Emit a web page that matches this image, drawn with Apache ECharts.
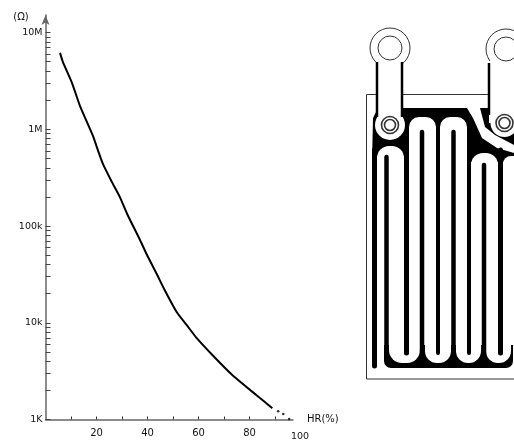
<!DOCTYPE html>
<html><head><meta charset="utf-8">
<style>html,body{margin:0;padding:0;background:#fff}#c{width:514px;height:441px;filter:blur(0.35px)}</style>
<script src="https://cdn.jsdelivr.net/npm/echarts@6/dist/echarts.min.js"></script>
</head><body><div id="c"></div>
<script>
const humidity = [5.7,6.8,10.4,13.5,18.6,20.5,22.5,26,29.1,32.2,36.9,39.6,43.6,46.7,51.4,55.3,59.2,65.4,73.2,82.6,88.9];
const resistance = [6170000,4980000,3010000,1750000,855000,612000,439000,286000,200000,130000,73000,51400,31900,21800,12900,9500,6970,4640,2880,1790,1310];
const tailHumidity = [91.2,93.2,95.5];
const tailResistance = [1220,1140,1010];
const xLabelValues = [20,40,60,80];
const xTickValues = [10,20,30,40,50,60,70,80,90];
const yLabelValues = [1000,10000,100000,1000000,10000000];
const yLabelTexts = {1000:'1K',10000:'10k',100000:'100k',1000000:'1M',10000000:'10M'};
const yTickValues = [];
yLabelValues.forEach((d,i)=>{ [1,2,3,4,5,6,7,8,9].forEach(m=>{ if(d*m<=10000000) yTickValues.push(d*m); }); });

const ink='#000', edge='#333';
const poly=(points,fill,z)=>({type:'polygon',z:z,silent:true,shape:{points},style:{fill,stroke:null}});
const rrect=(x,y,w,h,r,fill,z)=>({type:'rect',z:z,silent:true,shape:{x,y,width:w,height:h,r},style:{fill}});
const vline=(x,y1,y2,w,z)=>({type:'line',z:z,silent:true,shape:{x1:x,y1,x2:x,y2},style:{stroke:ink,lineWidth:w,lineCap:'round'}});
const ring=(cx,cy,r,fill,stroke,lw,z)=>({type:'circle',z:z,silent:true,shape:{cx,cy,r},style:{fill,stroke,lineWidth:lw}});
const txt=(x,y,text,size,align)=>({type:'text',z:30,silent:true,x,y,style:{text,fill:'#111',fontSize:size,fontFamily:'DejaVu Sans',align:align||'center',verticalAlign:'middle'}});

const lug=(cx,cyTop,eyeX,cyEye,armL,armR,halo)=>[
  ring(cx,cyTop,20,'#fff',edge,1,20),
  rrect(armL,cyTop+12,armR-armL,cyEye-cyTop-12,0,'#fff',21),
  {type:'line',z:22,silent:true,shape:{x1:armL,y1:cyTop+14,x2:armL,y2:cyEye-8},style:{stroke:ink,lineWidth:2.5}},
  {type:'line',z:22,silent:true,shape:{x1:armR,y1:cyTop+14,x2:armR,y2:cyEye-8},style:{stroke:ink,lineWidth:2.5}},
  ring(cx,cyTop,12,'#fff',edge,1,23),
  ring(eyeX,cyEye,halo,'#fff',null,0,21),
  ring(eyeX,cyEye,8.5,'#fff',edge,1.6,23),
  ring(eyeX,cyEye,5.5,'#fff',edge,1.6,23)
];

const sensor=[
  {type:'rect',z:5,silent:true,shape:{x:366.5,y:94.5,width:170,height:284.5},style:{fill:'#fff',stroke:edge,lineWidth:1}},
  // bottom comb band
  rrect(384,345,129,23,[0,0,7,7],ink,6),
  rrect(389,300,31,63,[0,0,13,13],'#fff',7),
  rrect(425,300,26,63,[0,0,12,12],'#fff',7),
  rrect(456,300,25,63,[0,0,12,12],'#fff',7),
  rrect(486,300,25,63,[0,0,12,12],'#fff',7),
  // top conductor
  poly([[373,118],[378,108],[467,108],[473,118],[482,138],[497,148],[514,153],[514,162],[372,162]],ink,8),
  poly([[480,108],[514,108],[514,145],[495,135],[485,127]],ink,8),
  rrect(377,146,27,154,[12,12,0,0],'#fff',9),
  rrect(409,117,27,183,[10,10,0,0],'#fff',9),
  rrect(440,117,27,183,[10,10,0,0],'#fff',9),
  rrect(471,153,27,147,[12,12,0,0],'#fff',9),
  rrect(503,156,30,144,[8,0,0,0],'#fff',9),
  // meander lines
  vline(374.5,150,366,5,10),
  vline(386.5,157,360,4.5,10),
  vline(406.5,140,353,5,10),
  vline(422,132,360,4.5,10),
  vline(438,140,353,4,10),
  vline(453.5,132,360,4.5,10),
  vline(469,140,353,4,10),
  vline(484,165,360,4.5,10),
  vline(500.5,150,353,5,10),
  ...lug(390,48,390,125,377,402,15),
  ...lug(506,49,504.5,123,489,524,14)
];

const chart=echarts.init(document.getElementById('c'),null,{renderer:'canvas'});
chart.setOption({
  animation:false,
  backgroundColor:'#fff',
  grid:{left:45.5,right:221,top:15,bottom:21.5,containLabel:false},
  xAxis:{type:'value',min:0,max:97,
    name:'HR(%)',nameLocation:'end',nameGap:14,nameTextStyle:{fontSize:10,color:'#111',fontFamily:'DejaVu Sans',verticalAlign:'middle'},
    axisLine:{onZero:false,lineStyle:{color:'#666',width:1.5}},
    axisTick:{inside:true,length:3,customValues:xTickValues,lineStyle:{color:'#333',width:1}},
    axisLabel:{customValues:xLabelValues,margin:9,fontSize:10,color:'#111',fontFamily:'DejaVu Sans'},
    splitLine:{show:false}},
  yAxis:{type:'log',logBase:10,min:1000,max:15200000,
    axisLine:{onZero:false,symbol:['none','arrow'],symbolSize:[6,10],lineStyle:{color:'#666',width:1.5}},
    axisTick:{inside:true,length:5,customValues:yTickValues,lineStyle:{color:'#444',width:1}},
    axisLabel:{customValues:yLabelValues,margin:3,fontSize:9.5,color:'#111',fontFamily:'DejaVu Sans',formatter:v=>yLabelTexts[Math.round(v)]||''},
    splitLine:{show:false},minorTick:{show:false}},
  series:[
    {type:'line',data:humidity.map((h,i)=>[h,resistance[i]]),showSymbol:false,smooth:0.2,lineStyle:{color:'#000',width:2},clip:false},
    {type:'scatter',data:tailHumidity.map((h,i)=>[h,tailResistance[i]]),symbol:'circle',symbolSize:2.5,itemStyle:{color:'#000'},clip:false}
  ],
  graphic:[txt(21,17,'(Ω)',10),txt(300,437,'100',9.5),...sensor]
});
</script></body></html>
